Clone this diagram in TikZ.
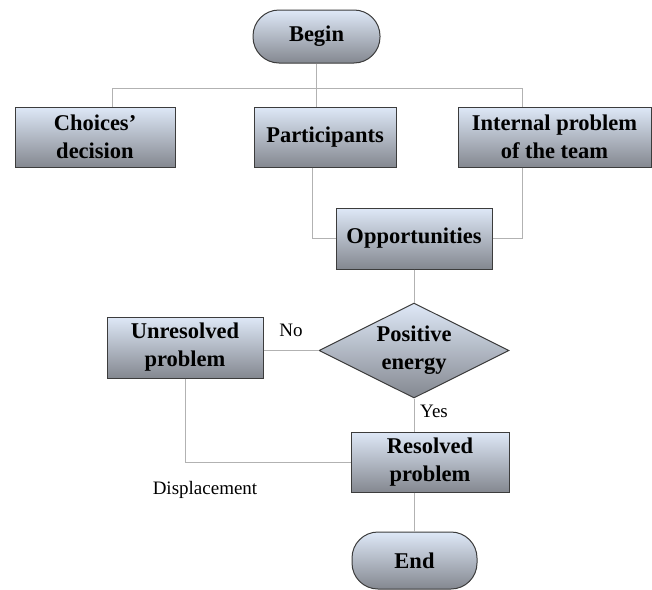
\documentclass[tikz,border=0pt]{standalone}
\usepackage{fontspec}
\setmainfont{Liberation Serif}
\usetikzlibrary{shapes.geometric}
\definecolor{boxtop}{RGB}{222,232,247}
\definecolor{boxbot}{RGB}{132,136,144}
\definecolor{boxedge}{RGB}{60,60,60}
\definecolor{wire}{RGB}{178,178,178}
\tikzset{
  shadedbox/.style={draw=boxedge, line width=1pt, top color=boxtop, bottom color=boxbot,
    align=center, font=\bfseries\fontsize{22.5}{28}\selectfont, inner sep=0pt},
  procbox/.style={shadedbox, rectangle},
  termbox/.style={shadedbox, rectangle, rounded corners=26pt},
  decbox/.style={shadedbox, diamond},
  wireline/.style={draw=wire, line width=1pt},
  lbl/.style={font=\fontsize{19}{22}\selectfont, inner sep=0pt}
}
\begin{document}
\begin{tikzpicture}[x=1pt,y=-1pt]
\useasboundingbox (0,0) rectangle (652,589);
% nodes
\node[termbox, minimum width=127pt, minimum height=53pt] (begin) at (316.5,36.5) {Begin};
\node[procbox, minimum width=160pt, minimum height=60pt] (choices) at (95,137) {Choices'\\decision};
\node[procbox, minimum width=142pt, minimum height=60pt] (part) at (325,137) {Participants};
\node[procbox, minimum width=193pt, minimum height=60pt] (internal) at (554.5,137) {Internal problem\\of the team};
\node[procbox, minimum width=156pt, minimum height=61pt] (opp) at (414,238.5) {Opportunities};
\node[decbox, minimum width=190pt, minimum height=95pt] (dec) at (414,350.5) {};
\node[font=\bfseries\fontsize{22.5}{28}\selectfont, align=center, inner sep=0pt] (dectext) at (dec.center) {Positive\\energy};
\node[procbox, minimum width=156pt, minimum height=61pt] (unres) at (185,347.5) {Unresolved\\problem};
\node[procbox, minimum width=158pt, minimum height=60pt] (res) at (430,462) {Resolved\\problem};
\node[termbox, minimum width=125pt, minimum height=57pt] (end) at (414.5,560.5) {End};
% labels
\node[lbl] (no) at (291,330) {No};
\node[lbl] (yes) at (434,411) {Yes};
\node[lbl] (disp) at (205,490) {Displacement};
% connectors
\coordinate (hl) at (112,88);
\coordinate (hr) at (522,88);
\draw[wireline] (begin.south) -- (begin.south |- part.north);
\draw[wireline] (choices.north -| hl) |- (hr) -- (internal.north -| hr);
\draw[wireline] ([xshift=-13pt]part.south) |- (opp.west);
\draw[wireline] ([xshift=-32.5pt]internal.south) |- (opp.east);
\draw[wireline] (opp.south) -- (dec.north);
\draw[wireline] (unres.east |- dec.west) -- (dec.west);
\draw[wireline] (unres.south) |- (res.west);
\draw[wireline] (dec.south) -- (dec.south |- res.north);
\draw[wireline] (end.north |- res.south) -- (end.north);
\end{tikzpicture}
\end{document}
